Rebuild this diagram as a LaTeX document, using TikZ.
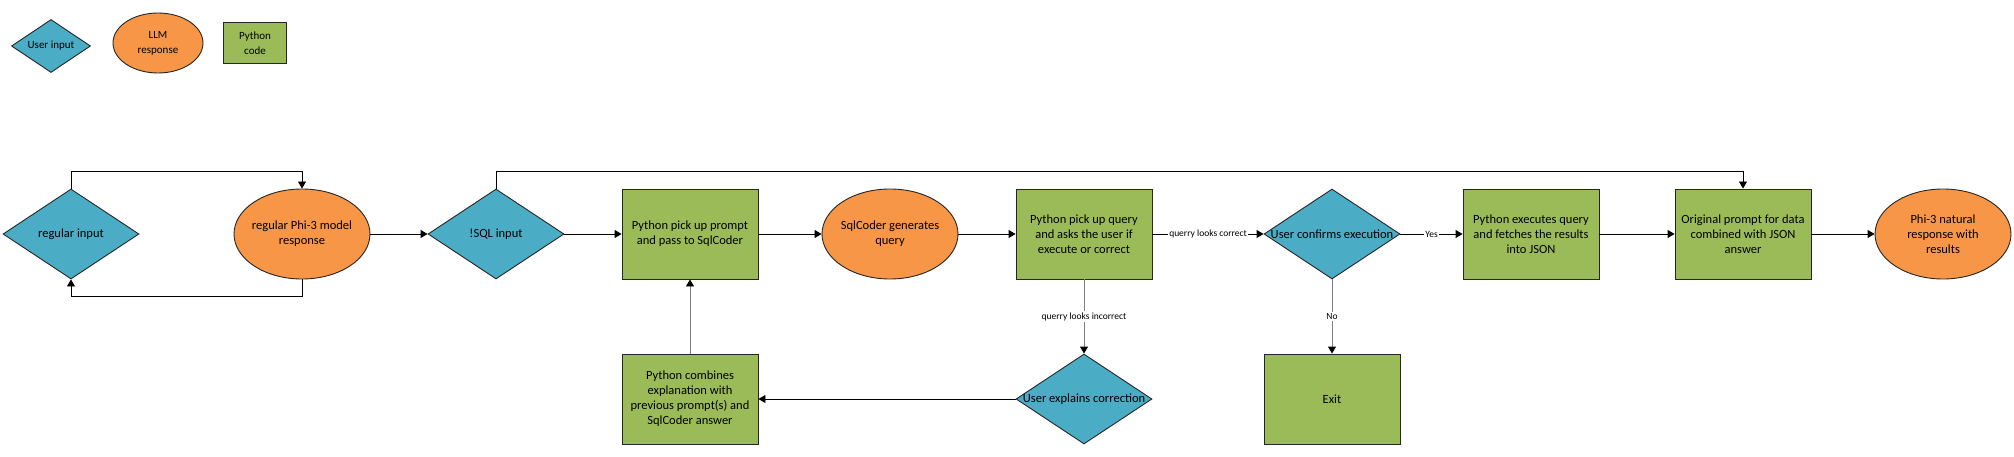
\documentclass[tikz,border=0pt]{standalone}
\usepackage{fontspec}
\setmainfont{Carlito}
\usepackage{tikz}
\usetikzlibrary{shapes.geometric,arrows.meta}

\definecolor{userblue}{HTML}{4BACC6}
\definecolor{llmorange}{HTML}{F79646}
\definecolor{pygreen}{HTML}{9BBB59}
\definecolor{edgedark}{HTML}{262626}

\begin{document}
\begin{tikzpicture}[x=1pt, y=-1pt,
    txt/.style={font=\fontsize{12.5}{15}\selectfont, align=center, text=black},
    userin/.style={diamond, draw=edgedark, fill=userblue, line width=0.9pt, inner sep=0pt,
      minimum width=136pt, minimum height=90pt, txt},
    llm/.style={ellipse, draw=edgedark, fill=llmorange, line width=0.9pt, inner xsep=-4pt,
      inner ysep=0pt, minimum width=136pt, minimum height=90pt, txt},
    pycode/.style={rectangle, draw=edgedark, fill=pygreen, line width=0.9pt,
      minimum width=136pt, minimum height=90pt, txt},
    flow/.style={line width=0.9pt, -{Triangle[length=7pt,width=8pt]}},
    greyflow/.style={line width=0.9pt, draw=gray, -{Triangle[length=7pt,width=8pt,color=black]}},
    lbl/.style={font=\fontsize{9.5}{11}\selectfont, fill=white, inner sep=1pt}
  ]
      \useasboundingbox (0,0) rectangle (2014,457);

      \node[userin, minimum width=79pt, minimum height=53pt, font=\fontsize{11}{15}\selectfont]
        (keyuser) at (51,46) {\makebox[0pt]{User input}};
      \node[llm, minimum width=90pt, minimum height=60pt, font=\fontsize{11}{15}\selectfont]
        (keyllm) at (158,43) {LLM\\response};
      \node[pycode, minimum width=63pt, minimum height=41pt, font=\fontsize{11}{15}\selectfont]
        (keypy) at (255,43) {Python\\code};

      \node[userin] (regin)   at (71,234)   {\makebox[0pt]{regular input}};
      \node[llm]    (regresp) at (302,234)  {regular Phi-3 model\\response};
      \node[userin] (sqlin)   at (496,234)  {\makebox[0pt]{!SQL input}};
      \node[pycode] (pickprompt) at (690,234) {Python pick up prompt\\and pass to SqlCoder};
      \node[llm]    (coder)   at (890,234)  {SqlCoder generates\\query};
      \node[pycode] (pickquery) at (1084,234) {Python pick up query\\and asks the user if\\execute or correct};
      \node[userin] (confirm) at (1332,234) {\makebox[0pt]{User confirms execution}};
      \node[pycode] (execq)   at (1531,234) {Python executes query\\and fetches the results\\into JSON};
      \node[pycode] (orig)    at (1743,234) {Original prompt for data\\combined with JSON\\answer};
      \node[llm]    (natural) at (1943,234) {Phi-3 natural\\response with\\results};

      \node[pycode] (combine) at (690,399)  {Python combines\\explanation with\\previous prompt(s) and\\SqlCoder answer};
      \node[userin] (explain) at (1084,399) {\makebox[0pt]{User explains correction}};
      \node[pycode] (exitbox) at (1332,399) {Exit};

      \draw[flow] (regin.north) -- ++(0,-17) -| (regresp.north);
      \draw[flow] (regresp.south) -- ++(0,17) -| (regin.south);
      \draw[flow] (regresp.east) -- (sqlin.west);
      \draw[flow] (sqlin.north) -- ++(0,-17) -| (orig.north);
      \draw[flow] (sqlin.east) -- (pickprompt.west);
      \draw[flow] (pickprompt.east) -- (coder.west);
      \draw[flow] (coder.east) -- (pickquery.west);
      \draw[flow] (pickquery.east) -- node[lbl] {querry looks correct} (confirm.west);
      \draw[flow] (confirm.east) -- node[lbl] {Yes} (execq.west);
      \draw[flow] (execq.east) -- (orig.west);
      \draw[flow] (orig.east) -- (natural.west);

      \draw[greyflow] (pickquery.south) -- node[lbl] {querry looks incorrect} (explain.north);
      \draw[greyflow] (confirm.south) -- node[lbl] {No} (exitbox.north);
      \draw[flow] (explain.west) -- (combine.east);
      \draw[greyflow] (combine.north) -- (pickprompt.south);

     \end{tikzpicture}
\end{document}
